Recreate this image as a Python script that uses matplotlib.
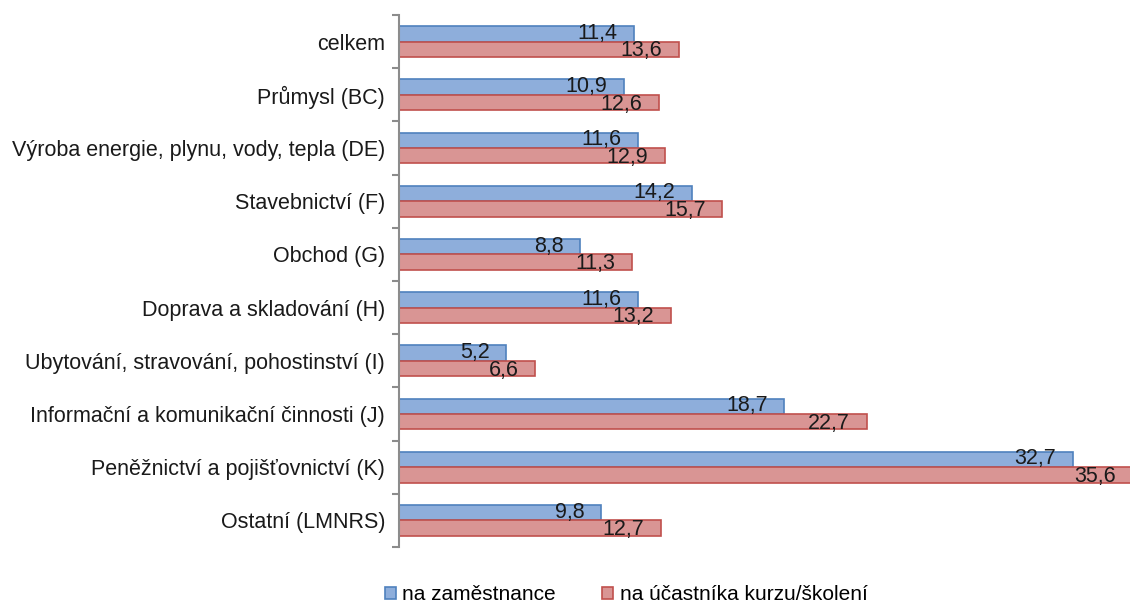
import matplotlib
matplotlib.use("Agg")
import matplotlib.pyplot as plt
import numpy as np

categories = ["celkem", "Průmysl (BC)", "Výroba energie, plynu, vody, tepla (DE)",
              "Stavebnictví (F)", "Obchod (G)", "Doprava a skladování (H)",
              "Ubytování, stravování, pohostinství (I)",
              "Informační a komunikační činnosti (J)",
              "Peně\u017enictv\u00ed a poji\u0161\u0165ovnictv\u00ed (K)", "Ostatní (LMNRS)"]
per_employee = [11.4, 10.9, 11.6, 14.2, 8.8, 11.6, 5.2, 18.7, 32.7, 9.8]
per_participant = [13.6, 12.6, 12.9, 15.7, 11.3, 13.2, 6.6, 22.7, 35.6, 12.7]
series_names = ["na zaměstnance", "na účastníka kurzu/školení"]

plt.rcParams['font.family'] = ['Liberation Sans', 'DejaVu Sans']

W, H = 1130, 603
fig = plt.figure(figsize=(W/100, H/100), dpi=100)
ax = fig.add_axes([399/W, (H-547)/H, (W-399)/W, (547-15)/H])

n = len(categories)
y = np.arange(n)
h = 0.29
blue_fc, blue_ec = "#8EAEDB", "#4F81BD"
red_fc, red_ec = "#D99594", "#C0504D"

b1 = ax.barh(y - h/2, per_employee, height=h, color=blue_fc, edgecolor=blue_ec, linewidth=1.2, label=series_names[0])
b2 = ax.barh(y + h/2, per_participant, height=h, color=red_fc, edgecolor=red_ec, linewidth=1.2, label=series_names[1])

ax.set_xlim(0, (W - 399) / 20.6)
ax.set_ylim(n - 0.5, -0.5)

def fmt(v):
    return f"{v:.1f}".replace(".", ",")

for bars, vals, dy in ((b1, per_employee, -0.01), (b2, per_participant, 0.03)):
    for yy, v, bar in zip(y, vals, bars):
        yc = bar.get_y() + bar.get_height()/2 + dy
        ax.annotate(fmt(v), xy=(v, yc), xytext=(-12, 0), textcoords="offset points",
                    ha="right", va="center", fontsize=15.5, color="#1a1a1a",
                    annotation_clip=False)

ax.set_yticks(np.arange(n + 1) - 0.5)
ax.set_yticklabels([])
ax.set_yticks(y, minor=True)
ax.set_yticklabels(categories, minor=True, fontsize=15.5, color="#1a1a1a")
ax.tick_params(axis="y", which="major", length=5, width=1.5, color="#8c8c8c", direction="out")
ax.tick_params(axis="y", which="minor", length=0, pad=10)
ax.set_xticks([])
for s in ("top", "right", "bottom"):
    ax.spines[s].set_visible(False)
ax.spines["left"].set_color("#8c8c8c")
ax.spines["left"].set_linewidth(1.5)

fig.legend(handles=[b1, b2], labels=series_names, loc="center", ncol=2,
           bbox_to_anchor=(626/W, 1 - 595/H), frameon=False, fontsize=15,
           handlelength=0.55, handleheight=0.55, handletextpad=0.3, columnspacing=2.2)

fig.savefig("out.png", dpi=100)
